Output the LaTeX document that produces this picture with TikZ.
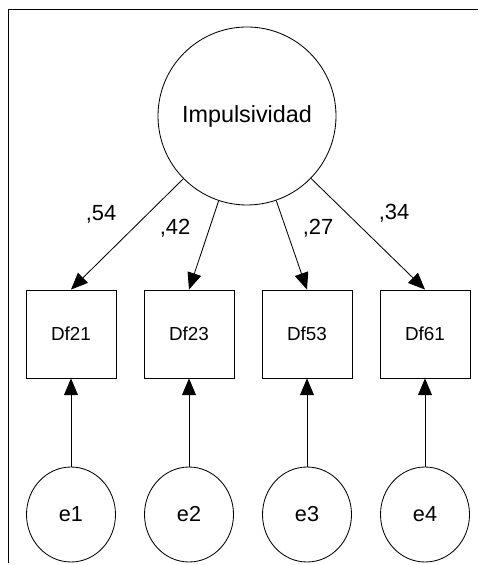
\documentclass[tikz,border=0pt]{standalone}
\usepackage{fontspec}
\setmainfont{Liberation Sans}
\usetikzlibrary{arrows.meta,shapes.geometric}
\begin{document}
\begin{tikzpicture}[>={Triangle[length=4.2mm,width=3.5mm]}, line width=0.6pt,
  obs/.style={draw, minimum width=2.25cm, minimum height=2.2cm, inner sep=0pt, font=\fontsize{13.4}{15}\selectfont},
  err/.style={draw, ellipse, minimum width=2.225cm, minimum height=2.375cm, inner sep=0pt, font=\fontsize{15.4}{17}\selectfont},
  coef/.style={font=\fontsize{15.6}{17}\selectfont}]
 \useasboundingbox (0,0) rectangle (11.95,14.125);
 \draw[line width=1.4pt] (0.2125,0.05) -- (0.2125,13.8875) -- (11.95,13.8875);
 \node[draw, circle, minimum size=4.45cm, inner sep=0pt, font=\fontsize{16.6}{18}\selectfont] (imp) at (6.175,11.225) {Impulsividad};
 \node[obs] (df21) at (1.775,5.775) {Df21};
 \node[obs] (df23) at (4.725,5.775) {Df23};
 \node[obs] (df53) at (7.675,5.775) {Df53};
 \node[obs] (df61) at (10.625,5.775) {Df61};
 \node[err] (e1) at (1.775,1.2625) {e1};
 \node[err] (e2) at (4.725,1.2625) {e2};
 \node[err] (e3) at (7.675,1.2625) {e3};
 \node[err] (e4) at (10.625,1.2625) {e4};
 \draw[->] (imp) -- (df21.north);
 \draw[->] (imp) -- (df23.north);
 \draw[->] (imp) -- (df53.north);
 \draw[->] (imp) -- (df61.north);
 \node[coef] (c1) at (2.525,8.775) {,54};
 \node[coef] (c2) at (4.375,8.425) {,42};
 \node[coef] (c3) at (7.95,8.425) {,27};
 \node[coef] (c4) at (9.85,8.8) {,34};
 \draw[->] (e1) -- (df21);
 \draw[->] (e2) -- (df23);
 \draw[->] (e3) -- (df53);
 \draw[->] (e4) -- (df61);
\end{tikzpicture}
\end{document}
